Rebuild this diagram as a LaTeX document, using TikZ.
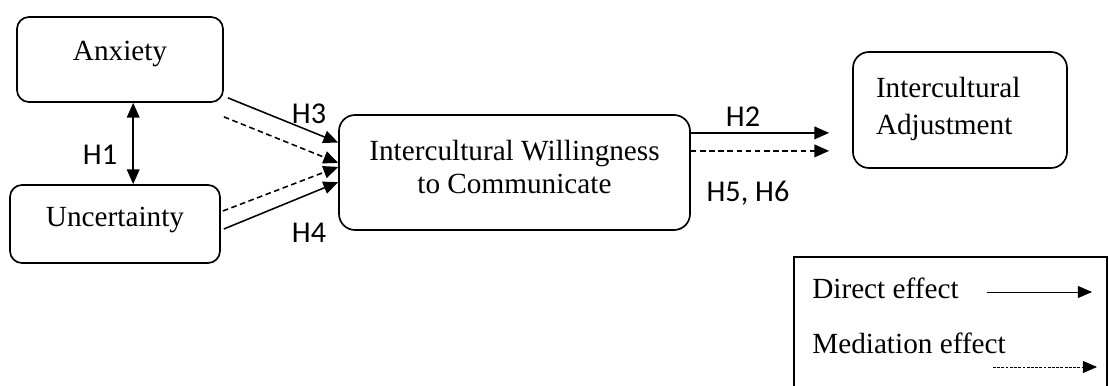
\documentclass[tikz,border=0pt]{standalone}
\usepackage{fontspec}
\setmainfont{Liberation Serif}
\newfontfamily\hypfont{Carlito}
\usetikzlibrary{arrows.meta,positioning}

\begin{document}
\begin{tikzpicture}[
  box/.style={draw, line width=1.2pt, rounded corners=0.3cm, align=center, inner sep=0pt, font=\fontsize{20.8}{23}\selectfont},
  hyp/.style={font=\hypfont\fontsize{21.5}{25}\selectfont, inner sep=0pt},
  legtext/.style={anchor=west, inner sep=0pt, font=\fontsize{20.8}{23}\selectfont},
  direct/.style={-{Triangle[length=10.5pt,width=9pt]}, line width=1.1pt},
  mediate/.style={direct, dash pattern=on 4pt off 2.5pt},
  both/.style={{Triangle[length=10.5pt,width=9pt]}-{Triangle[length=10.5pt,width=9pt]}, line width=1.1pt},
  legdirect/.style={-{Triangle[length=10pt,width=8.5pt]}, line width=0.6pt},
  legmediate/.style={legdirect, dash pattern=on 2pt off 1pt}
]
\useasboundingbox (0,0) rectangle (27.725,-9.65);

% boxes
\node[box, minimum width=5.15cm, minimum height=2.125cm, text depth=12pt] (anx) at (3.0,-1.4875) {Anxiety};
\node[box, minimum width=5.25cm, minimum height=1.95cm, text depth=10pt] (unc) at (2.875,-5.6) {Uncertainty};
\node[box, rounded corners=0.4cm, minimum width=8.775cm, minimum height=2.875cm, text depth=8pt] (iwc) at (12.8625,-4.3125) {Intercultural Willingness\\to Communicate};
\node[box, rounded corners=0.4cm, minimum width=5.35cm, minimum height=2.9cm, align=left, text width=4.2cm, text depth=32pt, font=\fontsize{20.8}{26.5}\selectfont] (ia) at (24.0,-2.75) {Intercultural\\Adjustment};

% connectors
\draw[both] ([xshift=0.33cm]anx.south) -- ([xshift=0.33cm]anx.south |- unc.north);
\draw[direct] ([xshift=0.1cm,yshift=0.125cm]anx.south east) -- ([yshift=0.75cm]iwc.west);
\draw[mediate] ([yshift=-0.35cm]anx.south east) -- ([yshift=0.24cm]iwc.west);
\draw[mediate] ([xshift=0.05cm,yshift=0.325cm]unc.east) -- ([yshift=0.14cm]iwc.west);
\draw[direct] ([xshift=0.075cm,yshift=-0.125cm]unc.east) -- ([yshift=-0.24cm]iwc.west);

\coordinate (h2s) at ([yshift=0.99cm]iwc.east);
\coordinate (h2e) at ([xshift=-0.575cm]h2s -| ia.west);
\coordinate (h5s) at ([yshift=0.54cm]iwc.east);
\coordinate (h5e) at ([xshift=-0.575cm]h5s -| ia.west);
\draw[direct] (h2s) -- (h2e);
\draw[mediate] (h5s) -- (h5e);

% labels
\node[hyp] (h1) at (2.5,-3.875) {H1};
\node[hyp] (h3) at (7.725,-2.85) {H3};
\node[hyp] (h4) at (7.725,-5.825) {H4};
\node[hyp] (h2) at (18.575,-2.91) {H2};
\node[hyp] (h56) at (18.7,-4.825) {H5, H6};

% legend
\draw[line width=1.3pt] (19.85,-9.8) -- (19.85,-6.425) -- (27.675,-6.425) -- (27.675,-9.8);
\node[legtext] (legd) at (20.3,-7.2) {Direct effect};
\node[legtext] (legm) at (20.3,-8.575) {Mediation effect};
\coordinate (legds) at (24.675,-7.3);
\coordinate (legde) at (27.3,-7.3);
\coordinate (legms) at (24.825,-9.175);
\coordinate (legme) at (27.425,-9.175);
\draw[legdirect] (legds) -- (legde);
\draw[legmediate] (legms) -- (legme);
\end{tikzpicture}
\end{document}
